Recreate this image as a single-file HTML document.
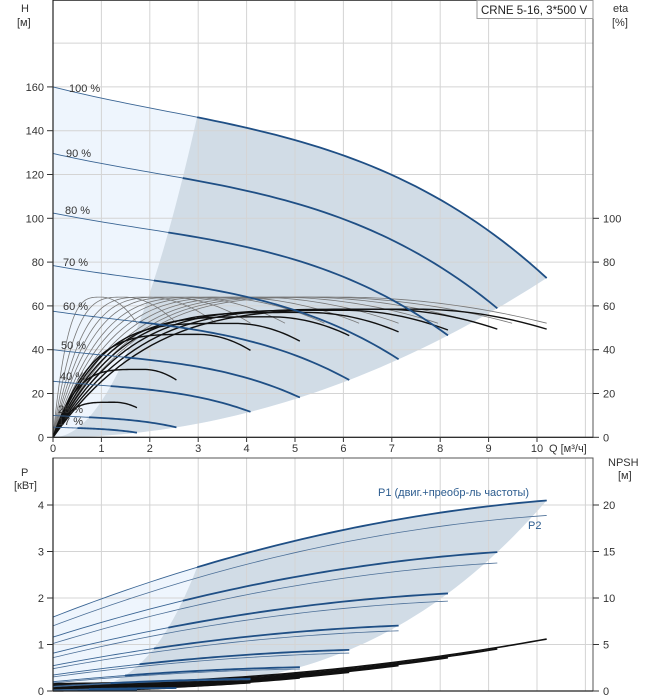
<!DOCTYPE html>
<html><head><meta charset="utf-8">
<style>
html,body{margin:0;padding:0;background:#fff;}
svg{display:block;font-family:"Liberation Sans",sans-serif;}
</style></head>
<body>
<svg id="c" width="658" height="700" viewBox="0 0 658 700" xmlns="http://www.w3.org/2000/svg">
<g id="g"></g>
<text x="21" y="12" font-size="11" fill="#333">H</text>
<text x="17" y="26" font-size="11" fill="#333">[м]</text>
<text x="613" y="12" font-size="11" fill="#333">eta</text>
<text x="612" y="26" font-size="11" fill="#333">[%]</text>
<rect x="477" y="0.5" width="116" height="18" fill="#fff" stroke="#999" stroke-width="1"/>
<text x="481" y="14" font-size="11.5" fill="#222">CRNE 5-16, 3*500 V</text>
<text x="21" y="476" font-size="11" fill="#333">P</text>
<text x="14" y="489" font-size="11" fill="#333">[кВт]</text>
<text x="608" y="466" font-size="11" fill="#333">NPSH</text>
<text x="618" y="479" font-size="11" fill="#333">[м]</text>
<text x="378" y="496" font-size="11" fill="#2b5b8e">P1 (двиг.+преобр-ль частоты)</text>
<text x="528" y="529" font-size="11" fill="#2b5b8e">P2</text>
<text x="549" y="452" font-size="11" fill="#333">Q [м³/ч]</text>
</svg>
<script>
var g=document.getElementById('g');var NS="http://www.w3.org/2000/svg";
function el(t,a,txt){var e=document.createElementNS(NS,t);for(var k in a)e.setAttribute(k,a[k]);if(txt!==undefined)e.textContent=txt;g.appendChild(e);return e;}
function X(q){return 53+48.4*q;}
function YT(h){return 437.3-2.19*h;}
function YB(p){return 691-46.5*p;}
function path(f,a,b,Y,n){n=n||60;var s="";for(var i=0;i<=n;i++){var q=a+(b-a)*i/n;s+=(i?"L":"M")+X(q).toFixed(2)+","+Y(f(q)).toFixed(2);}return s;}
function H0(q){return 160-5.6*q+0.57*q*q-0.0843*q*q*q;}
function Hs(s){return function(q){return s*s*H0(q/s);};}
function P1(q){return 1.59+0.407*q-0.0158*q*q;}
function P2(q){return P1(q)-0.19-0.013*q;}
function Ps(f,s){return function(q){return s*s*s*f(q/s);};}
var light=path(H0,0,10.2,YT)+path(function(q){return 0.699*q*q;},10.2,0,YT).replace("M","L")+"Z";
el('path',{d:light,fill:'#eef5fd'});
var dark=path(function(q){return 16.5*q*q;},0,2.98,YT)+path(H0,2.98,10.2,YT).replace("M","L")+path(function(q){return 0.699*q*q;},10.2,0,YT).replace("M","L")+"Z";
el('path',{d:dark,fill:'#d1dce6'});
var lb=path(P1,0,10.2,YB)+path(function(q){return 4.1*Math.pow(q/10.2,3);},10.2,0,YB).replace("M","L")+"L"+X(0)+","+YB(0)+"Z";
el('path',{d:lb,fill:'#eef5fd'});
var db=path(function(q){return 2.67*Math.pow(q/2.98,3);},0,2.98,YB)+path(P1,2.98,10.2,YB).replace("M","L")+path(function(q){return 4.1*Math.pow(q/10.2,3);},10.2,0,YB).replace("M","L")+"Z";
el('path',{d:db,fill:'#d1dce6'});
for(var i=1;i<=11;i++){el('line',{x1:X(i),x2:X(i),y1:0,y2:437,stroke:'#d4d4d4','stroke-width':1});el('line',{x1:X(i),x2:X(i),y1:458,y2:691,stroke:'#d4d4d4','stroke-width':1});}
for(var h=20;h<=180;h+=20)el('line',{x1:53,x2:593,y1:YT(h),y2:YT(h),stroke:'#d4d4d4','stroke-width':1});
for(var p=1;p<=4;p++)el('line',{x1:53,x2:593,y1:YB(p),y2:YB(p),stroke:'#d4d4d4','stroke-width':1});
var speeds=[0.17,0.25,0.4,0.5,0.6,0.7,0.8,0.9,1.0];
function etaH(s){var Qb=5.9*s;return function(q){var x=q/Qb;return x<1?64*(1-Math.pow(1-x,3.5)):64*(1-0.35*(x-1)*(x-1));};}
var gs=[0.17,0.25,0.33,0.4,0.47,0.55,0.62,0.7,0.78,0.86,0.93,1.0];
gs.forEach(function(s){el('path',{d:path(etaH(s),0,s*10.2,YT),fill:'none',stroke:'#777','stroke-width':0.8});});
var pk={0.17:16,0.25:31,0.4:47,0.5:52,0.6:55,0.7:57,0.8:58,0.9:58.5,1.0:58.5};
speeds.forEach(function(s){var Qb=7.5*s,P=pk[s];el('path',{d:path(function(q){var x=q/Qb;return x<1?P*(1-Math.pow(1-x,4)):P*(1-1.2*(x-1)*(x-1));},0,s*10.2,YT),fill:'none',stroke:'#111','stroke-width':1.4});});
speeds.forEach(function(s){var f=Hs(s);el('path',{d:path(f,0,s*10.2,YT),fill:'none',stroke:'#3a6594','stroke-width':0.9});el('path',{d:path(f,s*2.98,s*10.2,YT,40),fill:'none',stroke:'#1f4f85','stroke-width':1.8});});
speeds.forEach(function(s){el('path',{d:path(function(q){return (0.8*s*s+0.046*q*q)/5;},0,s*10.2,YB),fill:'none',stroke:'#111','stroke-width':1.6});});
speeds.forEach(function(s){var f1=Ps(P1,s),f2=Ps(P2,s);
el('path',{d:path(f2,0,s*10.2,YB),fill:'none',stroke:'#4d7098','stroke-width':0.8});
el('path',{d:path(f1,0,s*10.2,YB),fill:'none',stroke:'#3a6594','stroke-width':0.9});
el('path',{d:path(f1,s*2.98,s*10.2,YB,40),fill:'none',stroke:'#1f4f85','stroke-width':1.8});});
el('rect',{x:53,y:0.5,width:540,height:436.8,fill:'none',stroke:'#555','stroke-width':1});
el('line',{x1:53,x2:593,y1:437.3,y2:437.3,stroke:'#222','stroke-width':1.2});
el('line',{x1:53,x2:53,y1:0,y2:437.3,stroke:'#222','stroke-width':1.2});
el('rect',{x:53,y:458,width:540,height:233,fill:'none',stroke:'#555','stroke-width':1});
el('line',{x1:53,x2:593,y1:691,y2:691,stroke:'#222','stroke-width':1.2});
el('line',{x1:53,x2:53,y1:458,y2:691,stroke:'#222','stroke-width':1.2});
for(var i=0;i<=10;i++){el('line',{x1:X(i),x2:X(i),y1:437,y2:442,stroke:'#333'});el('text',{x:X(i),y:452,'font-size':11,fill:'#333','text-anchor':'middle'},String(i));}
for(var h=0;h<=160;h+=20){el('line',{x1:47,x2:53,y1:YT(h),y2:YT(h),stroke:'#333'});el('text',{x:44,y:YT(h)+4,'font-size':11,fill:'#333','text-anchor':'end'},String(h));}
for(var h=0;h<=100;h+=20){el('line',{x1:593,x2:599,y1:YT(h),y2:YT(h),stroke:'#333'});el('text',{x:603,y:YT(h)+4,'font-size':11,fill:'#333'},String(h));}
for(var p=0;p<=4;p++){el('line',{x1:47,x2:53,y1:YB(p),y2:YB(p),stroke:'#333'});el('text',{x:44,y:YB(p)+4,'font-size':11,fill:'#333','text-anchor':'end'},String(p));}
for(var n=0;n<=20;n+=5){el('line',{x1:593,x2:599,y1:YB(n/5),y2:YB(n/5),stroke:'#333'});el('text',{x:603,y:YB(n/5)+4,'font-size':11,fill:'#333'},String(n));}
var labs=[["100 %",69,92],["90 %",66,157],["80 %",65,214],["70 %",63,266],["60 %",63,310],["50 %",61,349],["40 %",60,380],["25 %",58,413],["17 %",58,425]];
labs.forEach(function(l){el('text',{x:l[1],y:l[2],'font-size':11,fill:'#333'},l[0]);});
</script>
</body></html>
